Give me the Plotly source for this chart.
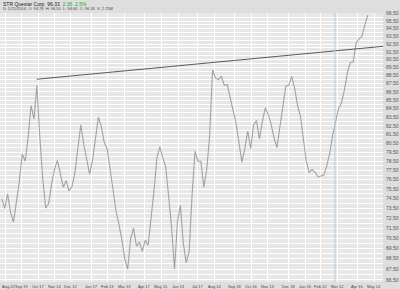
import math
import pandas as pd
import plotly.graph_objects as go

# Price series (5-day spacing)
start_date = "2012-08-16"
close = [74.5, 73.5, 75.0, 73.1, 72.1, 74.3, 76.3, 79.3, 78.5, 81.2,
         84.9, 83.3, 87.3, 81.2, 76.6, 73.5, 74.0, 76.0, 77.6, 78.6,
         77.3, 75.7, 76.4, 75.3, 75.8, 77.3, 80.0, 82.6, 80.4, 78.7,
         77.1, 78.6, 80.8, 83.5, 82.4, 80.6, 79.9, 77.5, 75.3, 73.3,
         71.9, 70.4, 68.5, 67.5, 70.4, 71.5, 69.7, 70.1, 69.2, 70.3,
         69.8, 72.3, 75.4, 78.9, 80.1, 78.9, 77.9, 74.7, 71.6, 67.5,
         72.1, 73.8, 70.0, 68.1, 69.2, 74.9, 79.6, 78.5, 78.5, 75.7,
         77.6, 81.4, 89.2, 88.2, 88.0, 88.4, 87.3, 87.4, 85.8, 84.6,
         82.8, 80.6, 78.4, 79.9, 81.9, 79.9, 82.6, 83.1, 81.0, 83.0,
         84.6, 83.8, 82.7, 81.1, 80.0, 82.4, 84.9, 87.2, 87.3, 88.4,
         87.0, 84.9, 83.6, 80.9, 78.5, 77.3, 77.6, 77.3, 76.8, 76.9,
         77.0, 78.0, 79.4, 81.4, 83.1, 84.5, 85.2, 86.7, 88.8, 90.1,
         90.2, 92.6, 93.2, 93.5, 95.0, 96.3]
dates = pd.date_range(start_date, periods=len(close), freq="5D")

trend_dates = ["2012-10-15", "2014-05-29"]
trend_values = [88.05, 92.2]

marker_date = "2014-03-08"

tick_dates = ["2012-08-22", "2012-09-19", "2012-10-17", "2012-11-14", "2012-12-12",
              "2013-01-17", "2013-02-13", "2013-03-13", "2013-04-17", "2013-05-15",
              "2013-06-13", "2013-07-17", "2013-08-14", "2013-09-18", "2013-10-16",
              "2013-11-13", "2013-12-18", "2014-01-16", "2014-02-12", "2014-03-12",
              "2014-04-16", "2014-05-14"]
tick_labels = ["Aug 22", "Sep 19", "Oct 17", "Nov 14", "Dec 12", "Jan 17", "Feb 13",
               "Mar 13", "Apr 17", "May 15", "Jun 13", "Jul 17", "Aug 14", "Sep 18",
               "Oct 16", "Nov 13", "Dec 18", "Jan 16", "Feb 12", "Mar 12", "Apr 16",
               "May 14"]

price_grid = [66.5 + 0.5 * i for i in range(61)]
price_labels = [f"{v:.2f}" if (v * 2) % 2 == 1 else "" for v in price_grid]

title_main = "STR Questar Corp  96.33"
title_change = "2.36  2.5%"
title_info = "D: 5/21/2014  O: 94.78  H: 96.50  L: 94.60  C: 96.33  V: 2.75M"

fig = go.Figure()
fig.add_trace(go.Scatter(x=dates, y=close, mode="lines",
                         line=dict(color="#a2a2a2", width=1.1), hoverinfo="skip"))
fig.add_trace(go.Scatter(x=trend_dates, y=trend_values, mode="lines",
                         line=dict(color="#5a5a5a", width=1), hoverinfo="skip"))

fig.add_shape(type="line", xref="x", yref="paper", x0=marker_date, x1=marker_date,
              y0=0, y1=1, line=dict(color="#b3cadb", width=1), layer="above")

fig.add_annotation(xref="paper", yref="paper", x=0.005, y=1.034, xanchor="left",
                   yanchor="middle", showarrow=False, align="left", borderpad=0,
                   text=f"{title_main}  <span style='color:#22aa22'>{title_change}</span>",
                   font=dict(family="Liberation Sans", size=5, color="#222"))
fig.add_annotation(xref="paper", yref="paper", x=0.005, y=1.016, xanchor="left",
                   yanchor="middle", showarrow=False, align="left", borderpad=0,
                   text=title_info,
                   font=dict(family="Liberation Sans", size=4, color="#444"))

for i, (d, lab) in enumerate(zip(tick_dates, tick_labels)):
    fig.add_annotation(xref="x", yref="paper", x=d, y=0, yanchor="top",
                       xanchor="left" if i == 0 else "center", xshift=-4 if i == 0 else 0,
                       showarrow=False, text=lab, borderpad=0, yshift=-1,
                       font=dict(family="Liberation Sans", size=4, color="#444"))

fig.update_layout(
    width=400, height=289,
    margin=dict(l=0, r=17, t=13, b=7),
    paper_bgcolor="#dedede", plot_bgcolor="#e7e7e7",
    showlegend=False,
    font=dict(family="Liberation Sans", size=5, color="#555"),
    xaxis=dict(range=["2012-08-13", "2014-05-29"], tickvals=tick_dates,
               showticklabels=False, showgrid=True, gridcolor="#ffffff",
               gridwidth=1, zeroline=False, showline=False, ticks=""),
    yaxis=dict(type="log", side="right", range=[math.log10(66.3), math.log10(96.6)],
               tickvals=price_grid, ticktext=price_labels, showgrid=True,
               gridcolor="#ffffff", gridwidth=1, zeroline=False, showline=False,
               ticks="", tickfont=dict(size=5), ticklabelstandoff=2),
)

fig.write_html("out.html")
